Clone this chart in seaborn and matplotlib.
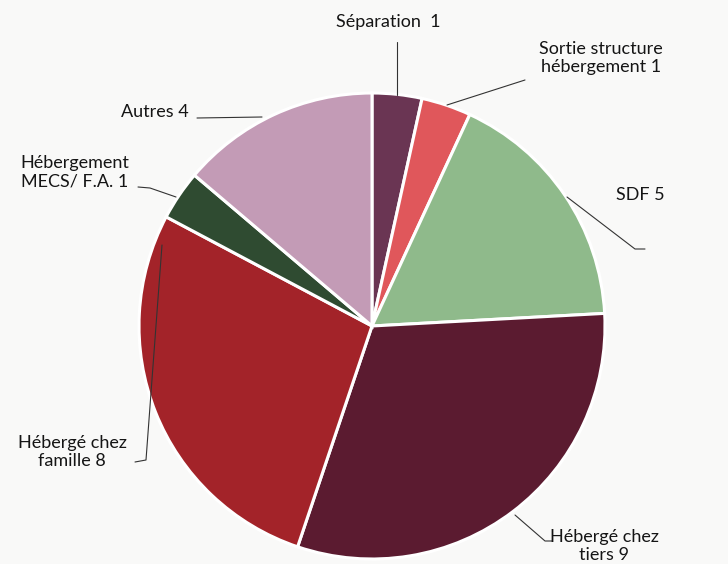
import numpy as np
import matplotlib
matplotlib.use("Agg")
import matplotlib.pyplot as plt
import seaborn as sns

# Situations at entry and the number of people in each
categories = ["Séparation", "Sortie structure\nhébergement", "SDF", "Hébergé chez\ntiers",
              "Hébergé chez\nfamille", "Hébergement\nMECS/ F.A.", "Autres"]
counts = [1, 1, 5, 9, 8, 1, 4]
slice_colors = ["#6a3553", "#e0575b", "#8fba8b", "#5b1b30", "#a32329", "#2f4b31", "#c39bb6"]

sns.set_theme(style="white")
plt.rcParams["font.family"] = ["Lato", "DejaVu Sans"]

W, H = 728, 564
fig = plt.figure(figsize=(W / 100, H / 100), dpi=100)
fig.patch.set_facecolor("#f9f9f8")
ax = fig.add_axes([0, 0, 1, 1])

cx, cy, r = 372, H - 326, 233
palette = sns.color_palette(slice_colors)
wedges, _ = ax.pie(counts, colors=palette, startangle=90, counterclock=False,
                   center=(cx, cy), radius=r, frame=True,
                   wedgeprops=dict(edgecolor="white", linewidth=2.2))
ax.set_xlim(0, W)
ax.set_ylim(0, H)
ax.set_aspect("equal")
ax.axis("off")

# label placement: (text centre, leader-line path after the wedge-edge point)
layout = [
    ((388, 22), [(397, 42)]),
    ((601, 58), [(525, 80)]),
    ((640, 195), [(635, 249), (645, 249)]),
    ((604, 546), [(545, 541), (552, 541)]),
    ((72, 452), [(146, 460), (135, 462)]),
    ((75, 172), [(150, 188), (138, 187)]),
    ((155, 112), [(197, 118)]),
]
edge_points = [(397, 95), (447, 105), (567, 197), (515, 515), (162, 245), (176, 197), (262, 117)]

for name, n, (txt, path), start in zip(categories, counts, layout, edge_points):
    label = f"{name} {n}" if name != "Séparation" else f"{name}  {n}"
    ax.text(txt[0], H - txt[1], label, ha="center", va="center", fontsize=13,
            color="#151515", linespacing=1.2)
    pts = [start] + path
    ax.plot([p[0] for p in pts], [H - p[1] for p in pts], color="#333333", lw=0.8)

fig.savefig("out.png", dpi=100, facecolor=fig.get_facecolor())
